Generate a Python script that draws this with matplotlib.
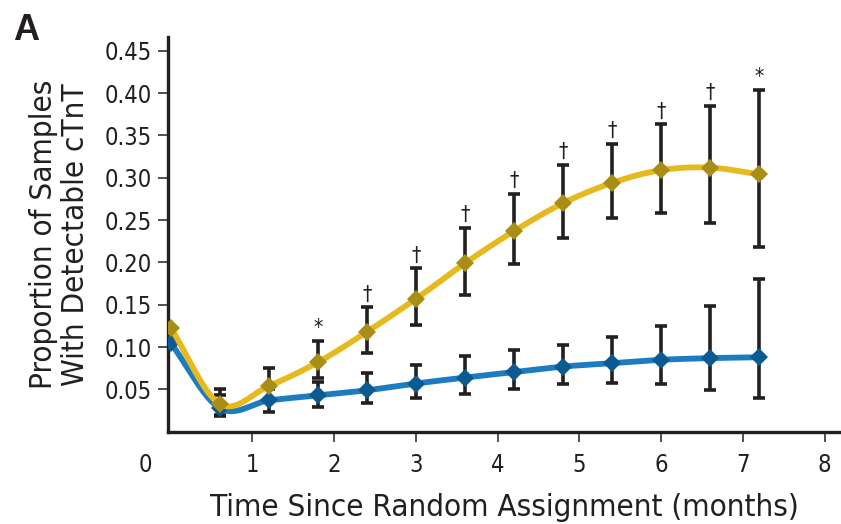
import matplotlib
matplotlib.use('Agg')
import matplotlib.pyplot as plt
import numpy as np

# months since random assignment
months = [0.0, 0.6, 1.2, 1.8, 2.4, 3.0, 3.6, 4.2, 4.8, 5.4, 6.0, 6.6, 7.2]

# yellow series: value, lower and upper bound of error bar
gold_val = [0.123, 0.033, 0.054, 0.082, 0.118, 0.157, 0.199, 0.237, 0.270, 0.294, 0.309, 0.312, 0.304]
gold_lo = [0.123, 0.020, 0.036, 0.064, 0.093, 0.126, 0.161, 0.198, 0.229, 0.252, 0.258, 0.247, 0.218]
gold_hi = [0.123, 0.051, 0.075, 0.107, 0.147, 0.193, 0.241, 0.281, 0.315, 0.340, 0.363, 0.385, 0.404]
gold_marks = ['', '', '', '*', '†', '†', '†', '†', '†', '†', '†', '†', '*']

# blue series
blue_val = [0.105, 0.028, 0.037, 0.043, 0.049, 0.057, 0.064, 0.0705, 0.077, 0.081, 0.085, 0.087, 0.088]
blue_lo = [0.105, 0.019, 0.023, 0.029, 0.034, 0.040, 0.045, 0.050, 0.056, 0.058, 0.056, 0.049, 0.040]
blue_hi = [0.105, 0.044, 0.050, 0.059, 0.069, 0.079, 0.089, 0.097, 0.103, 0.112, 0.125, 0.148, 0.180]

xticks = [1, 2, 3, 4, 5, 6, 7, 8]
yticks = [0.05, 0.10, 0.15, 0.20, 0.25, 0.30, 0.35, 0.40, 0.45]

GOLD_LINE = '#e6b91e'
GOLD_MARK = '#a88e16'
BLUE_LINE = '#1d7cc0'
BLUE_MARK = '#0b5a92'
BAR = '#231f20'

plt.rcParams['font.family'] = ['DejaVu Sans']
plt.rcParams['font.stretch'] = 'condensed'


def smooth(x, y, n=20):
    """Catmull-Rom curve through the points, for display only."""
    x = np.asarray(x, float)
    y = np.asarray(y, float)
    px = np.concatenate([[2 * x[0] - x[1]], x, [2 * x[-1] - x[-2]]])
    py = np.concatenate([[2 * y[0] - y[1]], y, [2 * y[-1] - y[-2]]])
    xs, ys = [], []
    t = np.linspace(0, 1, n, endpoint=False)
    for i in range(1, len(px) - 2):
        for p, out in ((px, xs), (py, ys)):
            p0, p1, p2, p3 = p[i - 1], p[i], p[i + 1], p[i + 2]
            out.append(0.5 * (2 * p1 + (-p0 + p2) * t
                              + (2 * p0 - 5 * p1 + 4 * p2 - p3) * t ** 2
                              + (-p0 + 3 * p1 - 3 * p2 + p3) * t ** 3))
    xs.append([x[-1]])
    ys.append([y[-1]])
    return np.concatenate(xs), np.concatenate(ys)


fig = plt.figure(figsize=(8.41, 5.24), dpi=100)
ax = fig.add_axes([0.200, 0.176, 0.800, 0.753])

for val, lo, hi, line_c, mark_c, z in (
        (blue_val, blue_lo, blue_hi, BLUE_LINE, BLUE_MARK, 3),
        (gold_val, gold_lo, gold_hi, GOLD_LINE, GOLD_MARK, 4)):
    v = np.array(val)
    err = [v - np.array(lo), np.array(hi) - v]
    ax.errorbar(months[1:], v[1:], yerr=[err[0][1:], err[1][1:]], fmt='none',
                ecolor=BAR, elinewidth=2.6, capsize=4.5, capthick=2.6, zorder=2)
    sx, sy = smooth(months, val)
    ax.plot(sx, sy, color=line_c, lw=4.2, solid_capstyle='round', zorder=z)
    ax.plot(months, val, ls='none', marker='D', ms=9.5, color=mark_c,
            markeredgewidth=0, zorder=z + 0.5)

for x, top, m in zip(months, gold_hi, gold_marks):
    if m:
        ax.annotate(m, (x, top), xytext=(0, 2), textcoords='offset points',
                    ha='center', va='bottom', fontsize=15, color=BAR)

ax.set_xlim(-0.03, 8.2)
ax.set_ylim(0, 0.466)
ax.set_xticks(xticks)
ax.set_yticks(yticks)
ax.set_yticklabels([f'{t:.2f}' for t in yticks])
ax.annotate('0', (0, 0), xytext=(-18, -15), textcoords='offset points',
            ha='center', va='top', fontsize=17, color='#231f20',
            annotation_clip=False)

for side in ('top', 'right'):
    ax.spines[side].set_visible(False)
for side in ('left', 'bottom'):
    ax.spines[side].set_linewidth(2.4)
    ax.spines[side].set_color(BAR)
ax.tick_params(axis='both', length=7, width=1.1, color=BAR, labelsize=17,
               labelcolor=BAR, pad=5)
ax.tick_params(axis='x', pad=8)

ax.set_xlabel('Time Since Random Assignment (months)', fontsize=22.5,
              color=BAR, labelpad=12)
ax.set_ylabel('Proportion of Samples\nWith Detectable cTnT', fontsize=22.5,
              color=BAR, labelpad=10, linespacing=1.15)
fig.text(0.016, 0.975, 'A', fontsize=26, fontweight='bold', va='top',
         ha='left', color=BAR, family='Liberation Sans', stretch='normal')

fig.savefig('out.png', dpi=100)
